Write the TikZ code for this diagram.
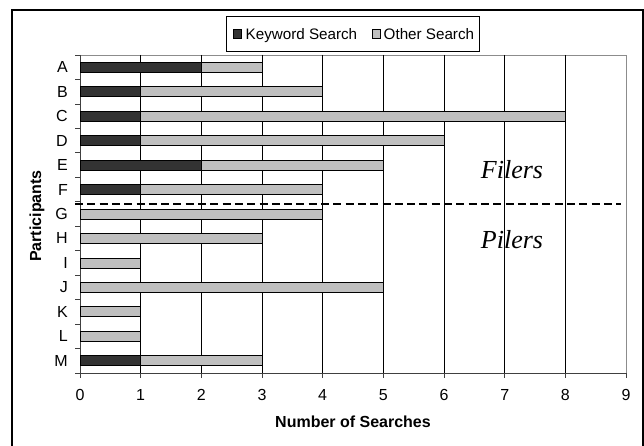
\documentclass[tikz,border=0pt]{standalone}
\usepackage{fontspec}
\setmainfont{Liberation Sans}
\newfontfamily\serifit{Liberation Serif}
\usetikzlibrary{positioning}

\begin{document}
\begin{tikzpicture}[x=1pt,y=-1pt,
  kwbar/.style={draw=black,fill=black!80,line width=0.8pt},
  otherbar/.style={draw=black,fill=black!25,line width=0.8pt},
  lbl/.style={font=\fontsize{16}{17}\selectfont,inner sep=0pt},
  keylbl/.style={font=\fontsize{15.2}{16}\selectfont,inner sep=0pt,anchor=base west},
  grouplbl/.style={font=\fontsize{26}{28}\serifit\itshape,inner sep=0pt}]
  \useasboundingbox (0,0) rectangle (644,446);
  \draw[line width=1.2pt] (12,450) -- (12,10) -- (643,10) -- (643,450);
  % plot area and grid
  \draw[black!45] (80,55) rectangle (626,373);
  \foreach \v in {1,...,8} { \draw[line width=0.7pt] (80+\v*60.67,55) -- (80+\v*60.67,373); }
  \draw[black!75,line width=1pt] (80,55) -- (80,373) -- (626,373);
  \foreach \j in {0,...,13} { \draw[black!75,line width=0.8pt] (75,55+\j*24.46) -- (80,55+\j*24.46); }
  \foreach \v in {0,...,9} {
    \draw[black!75,line width=0.8pt] (80+\v*60.67,373) -- (80+\v*60.67,378);
    \node[lbl] (t\v) at (80+\v*60.67,395) {\v};
  }
  % bars: participant / keyword / other
  \foreach \p/\k/\o [count=\i] in {A/2/1,B/1/3,C/1/7,D/1/5,E/2/3,F/1/3,G/0/4,H/0/3,I/0/1,J/0/5,K/0/1,L/0/1,M/1/2} {
    \pgfmathsetmacro\cy{55+(\i-0.5)*24.46}
    \ifnum\k>0 \draw[kwbar] (80,\cy-5) rectangle (80+\k*60.67,\cy+5); \fi
    \draw[otherbar] (80+\k*60.67,\cy-5) rectangle (80+\k*60.67+\o*60.67,\cy+5);
    \node[lbl,anchor=east] (p\p) at (68,\cy) {\p};
  }
  % split between the two groups
  \coordinate (splitL) at (75,204);
  \coordinate (splitR) at (621,204);
  \draw[line width=1.6pt,dash pattern=on 8pt off 4.3pt] (splitL) -- (splitR);
  \node[grouplbl] (filers) at (512,170) {Filers};
  \node[grouplbl] (pilers) at (512,240) {Pilers};
  % axis titles
  \node[lbl,font=\fontsize{16}{17}\selectfont\bfseries] (xtitle) at (353,422) {Number of Searches};
  \node[lbl,font=\fontsize{16}{17}\selectfont\bfseries,rotate=90] (ytitle) at (37,216) {Participants};
  % legend
  \node[draw=black,line width=0.8pt,minimum width=253pt,minimum height=35pt] (legend) at (352.5,33.5) {};
  \node[keylbl] (kwtext) at (245.5,39.5) {Keyword Search};
  \node[keylbl] (othertext) at (383.5,39.5) {Other Search};
  \draw[kwbar,line width=0.6pt] (233,29.5) rectangle (241.5,38);
  \draw[otherbar,line width=0.6pt] (372,29.5) rectangle (380.5,38);
\end{tikzpicture}
\end{document}
